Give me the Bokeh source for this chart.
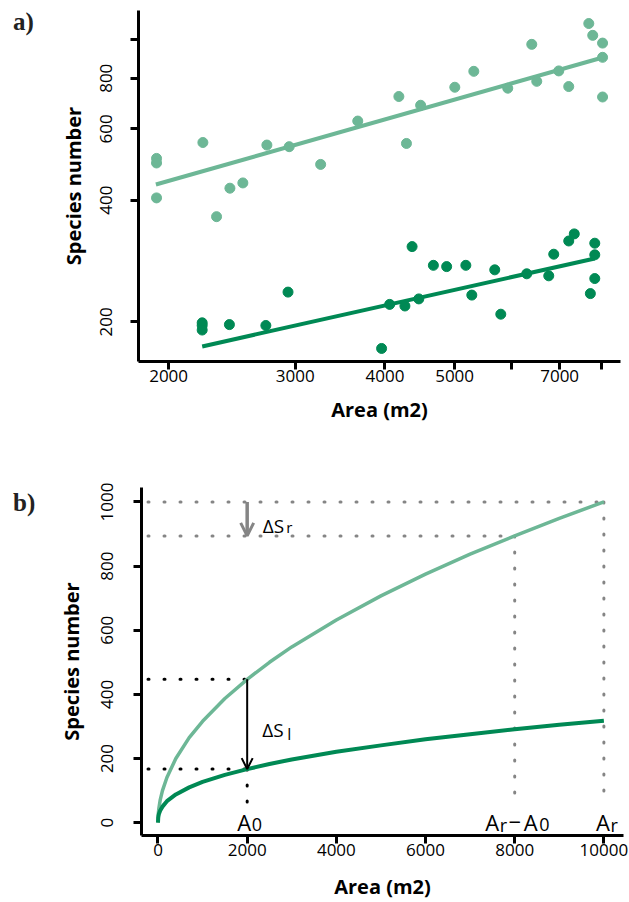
from bokeh.plotting import figure
from bokeh.layouts import column, row
from bokeh.models import FixedTicker, Arrow, OpenHead, BasicTickFormatter, Div
from bokeh.core.properties import value
from bokeh.embed import file_html
from bokeh.resources import INLINE

LIGHT = "#6db796"
DARK = "#008954"
GRAY = "#858585"

# ---------------- panel a data ----------------
light_area = [1924, 1924, 1924, 2232, 2332, 2434, 2537, 2740, 2943, 3255, 3666,
              4182, 4285, 4484, 5003, 5317, 5928, 6402, 6505, 6980, 7207, 7685,
              7783, 8032, 8032, 8032]
light_species = [507, 494, 405, 555, 364, 428, 441, 547, 542, 490, 627,
                 721, 552, 686, 760, 832, 756, 970, 786, 834, 763, 1092,
                 1021, 977, 901, 719]
dark_area = [2227, 2227, 2227, 2430, 2731, 2932, 3957, 4061, 4264, 4363, 4458,
             4671, 4874, 5183, 5283, 5686, 5797, 6300, 6760, 6869, 7207, 7336,
             7834, 7834, 7834, 7724]
dark_species = [199, 196, 191, 197, 196, 237, 172, 221, 219, 307, 228,
                276, 274, 276, 233, 269, 209, 263, 260, 294, 317, 330,
                313, 293, 256, 235]
light_fit_area = [1920, 8036]
light_fit_species = [437, 900]
dark_fit_area = [2227, 7834]
dark_fit_species = [174, 287]
a_xticks = [2000, 3000, 4000, 5000, 6000, 7000, 8000]
a_xtick_labels = ["2000", "3000", "4000", "5000", "", "7000", ""]
a_yticks = [200, 400, 600, 800, 1000]
a_ytick_labels = ["200", "400", "600", "800", ""]

# ---------------- panel b data ----------------
curve_area = [0, 5, 10, 20, 50, 100, 200, 400, 700, 1000, 1500, 2000, 2500, 3000,
              4000, 5000, 6000, 7000, 8000, 9000, 10000]
light_curve = [0, 22, 32, 45, 71, 100, 141, 200, 265, 316, 387, 447, 500, 548,
               632, 707, 775, 837, 894, 949, 1000]
dark_curve = [0, 15, 20, 27, 38, 50, 67, 88, 110, 127, 149, 167, 183, 197,
              221, 241, 260, 276, 291, 305, 318]
b_xticks = [0, 2000, 4000, 6000, 8000, 10000]
b_yticks = [0, 200, 400, 600, 800, 1000]
A0 = 2000
Ar = 10000
S_full = 1000      # light curve at Ar
S_reduced = 894    # light curve at Ar - A0
S_light_A0 = 447   # light curve at A0
S_dark_A0 = 167    # dark curve at A0
dot_start = -224
dot_end = 55

TAG_W = 40


def style(p):
    p.outline_line_color = None
    p.grid.visible = False
    p.background_fill_color = "white"
    p.border_fill_color = "white"
    for ax in (p.xaxis[0], p.yaxis[0]):
        ax.axis_line_width = 3
        ax.axis_line_color = "black"
        ax.major_tick_line_width = 3
        ax.major_tick_line_color = "black"
        ax.major_tick_out = 8
        ax.major_tick_in = 0
        ax.minor_tick_line_color = None
        ax.major_label_text_font = "Open Sans"
        ax.major_label_text_font_size = "17px"
        ax.major_label_text_color = "black"
        ax.axis_label_text_font = "Open Sans"
        ax.axis_label_text_font_style = "bold"
        ax.axis_label_text_font_size = "20px"
        ax.axis_label_text_color = "black"
    p.yaxis[0].major_label_orientation = "vertical"


def txt(p, x, y, s, size, dx=0, dy=0, align="left", color="black"):
    p.text(x=[x], y=[y], text=[s], text_font=value("Open Sans"),
           text_font_size=value(size), x_offset=dx, y_offset=dy,
           text_align=align, text_baseline="alphabetic", text_color=color)


def tag(label, height, top):
    return Div(text=label, width=TAG_W, height=height, margin=(0, 0, 0, 0),
               styles={"font-family": "'Liberation Serif', serif", "font-weight": "bold",
                       "font-size": "25px", "line-height": "25px", "color": "#222222",
                       "padding-left": "13px", "padding-top": f"{top}px",
                       "box-sizing": "border-box"})


# ---------------- panel a ----------------
pa = figure(width=629 - TAG_W, height=432, x_axis_type="log", y_axis_type="log",
            x_range=(1816, 8507), y_range=(159.7, 1176),
            output_backend="svg", toolbar_location=None, margin=(0, 0, 0, 0),
            min_border_left=138 - TAG_W, min_border_right=9, min_border_top=10,
            min_border_bottom=71)
style(pa)
pa.xaxis[0].ticker = FixedTicker(ticks=a_xticks)
pa.yaxis[0].ticker = FixedTicker(ticks=a_yticks)
pa.xaxis[0].formatter = BasicTickFormatter()
pa.yaxis[0].formatter = BasicTickFormatter()
pa.xaxis[0].major_label_overrides = dict(zip(a_xticks, a_xtick_labels))
pa.yaxis[0].major_label_overrides = dict(zip(a_yticks, a_ytick_labels))
pa.xaxis[0].axis_label = "Area (m2)"
pa.yaxis[0].axis_label = "Species number"
pa.xaxis[0].major_label_standoff = 0
pa.yaxis[0].major_label_standoff = 18
pa.xaxis[0].axis_label_standoff = 11
pa.yaxis[0].axis_label_standoff = 11

pa.line(light_fit_area, light_fit_species, line_color=LIGHT, line_width=4)
pa.line(dark_fit_area, dark_fit_species, line_color=DARK, line_width=4)
pa.scatter(light_area, light_species, size=10, fill_color=LIGHT, line_color=LIGHT)
pa.scatter(dark_area, dark_species, size=10, fill_color=DARK, line_color=DARK)

# ---------------- panel b ----------------
pb = figure(width=629 - TAG_W, height=470, x_range=(-370, 10440), y_range=(-40, 1045),
            output_backend="svg", toolbar_location=None, margin=(0, 0, 0, 0),
            min_border_left=141 - TAG_W, min_border_right=6, min_border_top=55,
            min_border_bottom=62)
style(pb)
pb.xaxis[0].ticker = FixedTicker(ticks=b_xticks)
pb.yaxis[0].ticker = FixedTicker(ticks=b_yticks)
pb.xaxis[0].axis_label = "Area (m2)"
pb.yaxis[0].axis_label = "Species number"
pb.xaxis[0].major_label_standoff = 0
pb.yaxis[0].major_label_standoff = 20
pb.xaxis[0].axis_label_standoff = 14
pb.yaxis[0].axis_label_standoff = 14

# dotted guides
pb.segment(x0=[dot_start, dot_start, Ar - A0, Ar], y0=[S_full, S_reduced, S_reduced, S_full],
           x1=[Ar, Ar - A0, Ar - A0, Ar], y1=[S_full, S_reduced, dot_end, dot_end],
           line_color=GRAY, line_width=3, line_dash="1 15", line_cap="round")
pb.segment(x0=[dot_start, dot_start, A0], y0=[S_light_A0, S_dark_A0, S_dark_A0],
           x1=[A0, A0, A0], y1=[S_light_A0, S_dark_A0, dot_end],
           line_color="black", line_width=3, line_dash="1 15", line_cap="round")

pb.line(curve_area, light_curve, line_color=LIGHT, line_width=3.5)
pb.line(curve_area, dark_curve, line_color=DARK, line_width=4)

pb.add_layout(Arrow(end=OpenHead(size=13, line_color=GRAY, line_width=3),
                    x_start=A0, y_start=S_full, x_end=A0, y_end=S_reduced,
                    line_color=GRAY, line_width=3.5))
pb.add_layout(Arrow(end=OpenHead(size=11, line_color="black", line_width=2),
                    x_start=A0, y_start=S_light_A0, x_end=A0, y_end=S_dark_A0,
                    line_color="black", line_width=2))

# delta labels
txt(pb, A0, S_full, "\u0394S", "19px", dx=15.5, dy=24)
txt(pb, A0, S_full, "r", "15px", dx=39, dy=25)
mid = (S_light_A0 + S_dark_A0) / 2
txt(pb, A0, mid, "\u0394S", "19px", dx=15, dy=6)
txt(pb, A0, mid, "l", "16px", dx=40, dy=10)

# A labels
txt(pb, A0, 0, "A", "22px", dx=4, dy=-1, align="right")
txt(pb, A0, 0, "0", "18px", dx=4.5, dy=2, align="left")
txt(pb, Ar - A0, 0, "A", "22px", dx=-15.5, dy=-1, align="right")
txt(pb, Ar - A0, 0, "r", "18px", dx=-15, dy=2, align="left")
txt(pb, Ar - A0, 0, "\u2212", "22px", dx=0, dy=-1, align="center")
txt(pb, Ar - A0, 0, "A", "22px", dx=9, dy=-1, align="left")
txt(pb, Ar - A0, 0, "0", "18px", dx=24.5, dy=2, align="left")
txt(pb, Ar, 0, "A", "22px", dx=6, dy=-1, align="right")
txt(pb, Ar, 0, "r", "18px", dx=6.5, dy=2, align="left")

row_a = row(tag("a)", 432, 9), pa, margin=(0, 0, 0, 0), spacing=0)
row_b = row(tag("b)", 470, 58), pb, margin=(0, 0, 0, 0), spacing=0)
layout = column(row_a, row_b, margin=(0, 0, 0, 0), spacing=0)
open("out.html", "w").write(file_html(layout, INLINE))
